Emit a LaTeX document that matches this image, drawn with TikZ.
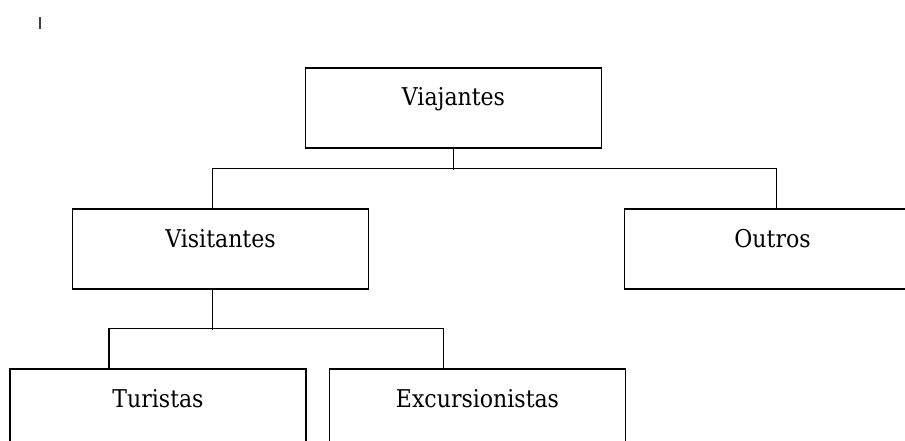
\documentclass[tikz,border=0pt]{standalone}
\usepackage{fontspec}
\setmainfont{DejaVu Serif Condensed}
\usetikzlibrary{positioning}
\tikzstyle{box}=[draw, rectangle, line width=1.3pt, minimum width=296pt, minimum height=80pt, inner sep=0pt, text height=18pt, text depth=22pt, font=\fontsize{24.5}{28}\selectfont]

\begin{document}
\begin{tikzpicture}[x=1pt, y=-1pt, line width=1.3pt]
\useasboundingbox (0,0) rectangle (905,441);
\clip (0,0) rectangle (905,441);
\draw [line width=1.2pt, black!75] (40,17) -- (40,29);
\node [box] (viaj) at (453.5,108){Viajantes};
\node [box] (visit) at (220.5,249){Visitantes}; \node [box] (outros) at (772.5,249){Outros};
\node [box] (turist) at (158,409){Turistas}; \node [box] (excur) at (477.5,409){Excursionistas};

\draw (viaj.south) -- ++(0,21);
\draw ([xshift=-8pt]visit.north) -- ++(0,-40) -| ([xshift=4pt]outros.north);
\draw ([xshift=-8pt]visit.south) -- ++(0,40);
\draw ([xshift=-49pt]turist.north) -- ++(0,-40) -| ([xshift=-34pt]excur.north);
\end{tikzpicture}
\end{document}
